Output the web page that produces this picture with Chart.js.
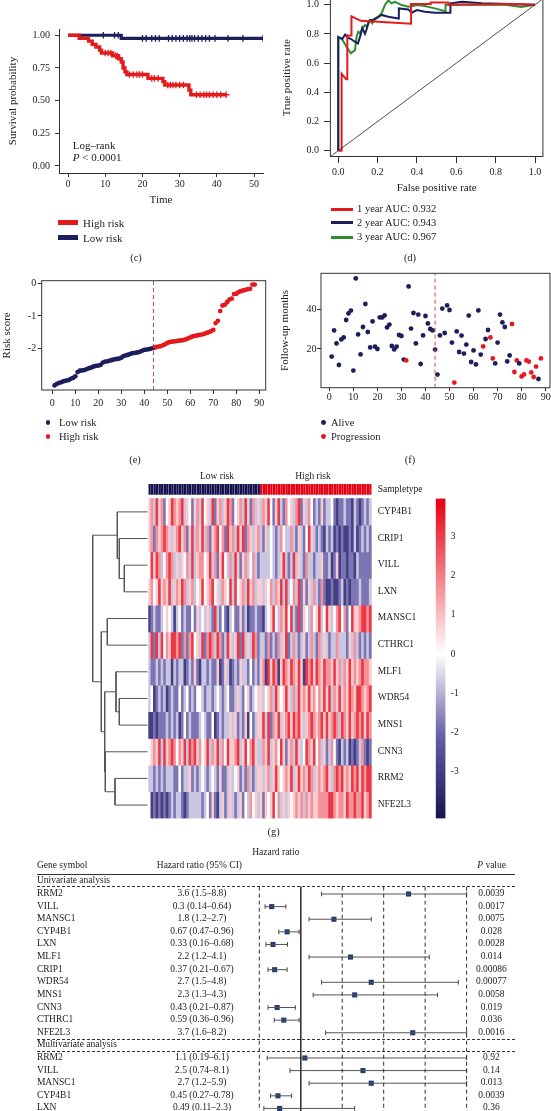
<!DOCTYPE html>
<html>
<head>
<meta charset="utf-8">
<script src="https://cdn.jsdelivr.net/npm/chart.js@4.4.1/dist/chart.umd.min.js"></script>
<style>
  html, body { margin: 0; padding: 0; background: #fff; overflow: hidden; }
  #page { position: relative; width: 551px; height: 1111px; overflow: hidden;
          font-family: 'Liberation Serif', 'Times New Roman', serif; color: #222; }
  canvas { position: absolute; }
  .t { position: absolute; white-space: nowrap; line-height: 1; }
  .sw { position: absolute; }
</style>
</head>
<body>
<div id="page">
  <canvas id="km"></canvas>
  <canvas id="roc"></canvas>
  <canvas id="risk"></canvas>
  <canvas id="follow"></canvas>
  <canvas id="dendro"></canvas>
  <canvas id="heat"></canvas>
  <canvas id="cbar"></canvas>
  <canvas id="forest"></canvas>
</div>
<script>
// ---------- (c) Kaplan-Meier ----------
const kmHighTime = [0, 3, 5.5, 6.5, 7.5, 8.5, 9, 12, 13.5, 14.3, 14.8, 15.3, 15.8, 21.5, 25.5, 26, 32.5, 33, 42.5];
const kmHighSurv = [1, 0.977, 0.955, 0.93, 0.91, 0.886, 0.864, 0.843, 0.82, 0.795, 0.75, 0.72, 0.70, 0.67, 0.645, 0.62, 0.58, 0.545, 0.545];
const kmLowTime = [0, 14.3, 52.4];
const kmLowSurv = [1, 0.976, 0.976];
const censorHighTime = [10, 10.8, 11.5, 12.8, 13.2, 16.5, 17.5, 18.5, 19.2, 20, 22.5, 23.2, 24.2, 26.8, 27.5, 28.2, 29, 30, 31, 34.5, 35.5, 36.5, 37.2, 38, 39, 40, 41, 42.5];
const censorLowTime = [9.5, 12.5, 13.5, 20, 21, 22.5, 23.5, 24.5, 27, 28, 29, 30, 31, 32, 32.7, 33.3, 34, 35, 36, 37, 38, 39.5, 43, 47, 52.4];
const kmTicksX = [0, 10, 20, 30, 40, 50];
const kmTicksY = [0, 0.25, 0.5, 0.75, 1];

// ---------- (d) ROC ----------
const roc1x = [0, 0.017, 0.017, 0.04, 0.046, 0.046, 0.067, 0.067, 0.115, 0.37, 0.37, 0.47, 0.47, 0.56, 0.56, 0.9, 1.0];
const roc1y = [0, 0, 0.527, 0.49, 0.49, 0.79, 0.79, 0.92, 0.89, 0.87, 1.005, 1.005, 1.015, 1.015, 1.0, 1.005, 1.0];
const roc2x = [0, 0, 0.02, 0.035, 0.05, 0.065, 0.08, 0.1, 0.115, 0.122, 0.136, 0.145, 0.156, 0.186, 0.22, 0.254, 0.305, 0.308, 0.356, 0.373, 0.4, 0.44, 0.49, 0.57, 0.57, 0.63, 0.73, 0.864, 1.0];
const roc2y = [0, 0.78, 0.765, 0.795, 0.775, 0.765, 0.75, 0.735, 0.80, 0.84, 0.80, 0.835, 0.89, 0.90, 0.93, 0.918, 0.906, 0.975, 0.968, 0.945, 0.963, 0.952, 0.945, 0.945, 1.01, 1.02, 1.01, 1.005, 1.0];
const roc3x = [0, 0, 0.017, 0.042, 0.064, 0.085, 0.093, 0.102, 0.11, 0.122, 0.136, 0.144, 0.161, 0.173, 0.186, 0.203, 0.22, 0.237, 0.254, 0.271, 0.288, 0.322, 0.356, 0.407, 0.44, 0.49, 0.545, 0.545, 0.6, 0.7, 0.85, 0.93, 1.0];
const roc3y = [0, 0.774, 0.769, 0.712, 0.667, 0.689, 0.781, 0.815, 0.804, 0.838, 0.861, 0.849, 0.895, 0.872, 0.906, 0.918, 0.941, 0.998, 1.03, 1.01, 1.02, 0.998, 0.986, 0.998, 0.991, 0.975, 0.955, 1.0, 1.0, 1.0, 1.0, 0.985, 1.0];
const chanceLine = [-0.04, 1.04];
const rocTicks = [0, 0.2, 0.4, 0.6, 0.8, 1];
const rocLegend = ['1 year AUC: 0.932', '2 year AUC: 0.943', '3 year AUC: 0.967'];

// ---------- (e) risk score ----------
const riskScore = [
  -3.13, -3.08, -3.05, -3.03, -3.0, -2.98, -2.97, -2.93, -2.9, -2.85,
  -2.72, -2.68, -2.67, -2.66, -2.63, -2.6, -2.58, -2.55, -2.53, -2.52,
  -2.5, -2.43, -2.4, -2.39, -2.37, -2.35, -2.33, -2.32, -2.31, -2.28,
  -2.23, -2.21, -2.19, -2.16, -2.14, -2.13, -2.12, -2.1, -2.07, -2.04,
  -2.03, -2.02, -2.0, -1.98, -1.96, -1.94, -1.93, -1.9, -1.87, -1.83,
  -1.8, -1.79, -1.78, -1.77, -1.76, -1.75, -1.74, -1.72, -1.69, -1.66,
  -1.63, -1.61, -1.6, -1.58, -1.57, -1.55, -1.52, -1.5, -1.47, -1.43,
  -1.22, -1.15, -0.85, -0.68, -0.66, -0.58, -0.5, -0.47, -0.33, -0.32,
  -0.27, -0.24, -0.22, -0.2, -0.18, -0.17, -0.04, -0.04
];
const cutoff = 44;
const riskTicksX = [0, 10, 20, 30, 40, 50, 60, 70, 80, 90];
const riskTicksY = [-2, -1, 0];

// ---------- (f) follow-up ----------
const followUp = [
  16.2, 29.3, 22.8, 12, 24.8, 25.8, 34.5, 37.8, 39.2, 9.2,
  55.3, 27.3, 17.3, 31, 42.5, 28.5, 20.8, 33.8, 21.2, 20,
  35.8, 35.8, 36.8, 30.8, 32.2, 21.5, 19.8, 21.2, 27, 26.5,
  14.7, 14.3, 51.3, 30.2, 38, 22.8, 37.2, 12.5, 26.8, 36.5,
  32.8, 30, 29.3, 19.7, 7.2, 26.8, 40.2, 28, 41.8, 39.5,
  23.2, 3.2, 28.8, 18.5, 26.7, 17.7, 22.2, 36.7, 13.5, 19.3,
  12.3, 39.3, 17.2, 21.3, 25, 29.5, 25.8, 15.3, 12.8, 23.2,
  37.2, 33.3, 31, 13.8, 16.8, 32.5, 8.5, 14.3, 12.8, 6.3,
  7.3, 14.3, 13.7, 8.3, 6, 11.2, 5, 15.3
];
const progressionIdx = [32, 52, 64, 67, 68, 76, 77, 78, 80, 81, 82, 83, 84, 85, 86, 88];
const followTicksY = [20, 40];

// ---------- (g) heatmap ----------
const geneNames = ['CYP4B1', 'CRIP1', 'VILL', 'LXN', 'MANSC1', 'CTHRC1', 'MLF1', 'WDR54', 'MNS1', 'CNN3', 'RRM2', 'NFE2L3'];
// one digit per sample, 1 = strongly low ... 4 = 0 ... 7 = strongly high
const heatRows = [
  '56375624576 56735425637 45372563576 24563752635 36574257326 45367253642 32523342122 32213212323',
  '56265676535 67562573657 36256746275 63757265356 32534323643 36325324753 23213231212 11213123232',
  '47576346763 53546373566 45736257436 37525634632 33334323573 23735326332 33522312512 21221322222',
  '56457565735 65763563457 45674536547 37456375635 53546365737 34637252536 32621121123 12122232223',
  '12322345431 34232242534 35327324213 42252312232 21345743657 47327254364 57347534674 62475567767',
  '37273746577 67262674537 26763762375 35727353762 33262326357 23632352363 26353233633 32536323232',
  '32232323313 23312325213 32322512531 23253324232 56175761576 57657517675 76576657563 65756567665',
  '34123231232 24234232443 23323432342 23532452345 53456375457 53637565756 46575736575 65765776567',
  '11212223232 31242322234 32241232335 35232514235 57372657356 75767535676 56757567637 65756767576',
  '45657375676 46573767564 57365736475 56735746753 36573564752 56375347657 46352364213 23121236212',
  '33232323332 24233523234 32343252235 34523263235 53563575456 57357565763 56567536767 56576757677',
  '41212121232 33212333332 34252135235 32352436453 52545746353 54565636565 56666776566 57667667567'
];
const levelValue = [0, -3.0, -1.8, -0.75, 0, 0.8, 1.7, 3.1];
const lowRiskCount = 44, highRiskCount = 44;
const cbMin = -4.21, cbMax = 3.98;
const colorbarTicks = [-3, -2, -1, 0, 1, 2, 3];
// hclust merges: negative = leaf (row index + 1), positive = earlier merge; last = height
const dendroMerges = [
  [-3, -4, 23.2], [-2, 1, 28.2], [-1, 2, 30.2], [-5, -6, 40.2], [-8, -9, 28.2], [-7, 5, 31.5],
  [-11, -12, 32.5], [-10, 7, 42.2], [6, 8, 42.8], [4, 9, 46.2], [3, 10, 54.8]
];

// ---------- forest plot ----------
const uniGenes = ['RRM2', 'VILL', 'MANSC1', 'CYP4B1', 'LXN', 'MLF1', 'CRIP1', 'WDR54', 'MNS1', 'CNN3', 'CTHRC1', 'NFE2L3'];
const uniHR = [3.6, 0.3, 1.8, 0.67, 0.33, 2.2, 0.37, 2.7, 2.3, 0.43, 0.59, 3.7];
const uniLo = [1.5, 0.14, 1.2, 0.47, 0.16, 1.2, 0.21, 1.5, 1.3, 0.21, 0.36, 1.6];
const uniHi = [8.8, 0.64, 2.7, 0.96, 0.68, 4.1, 0.67, 4.8, 4.3, 0.87, 0.96, 8.2];
const uniP = ['0.0039', '0.0017', '0.0075', '0.028', '0.0028', '0.014', '0.00086', '0.00077', '0.0058', '0.019', '0.036', '0.0016'];
const multiGenes = ['RRM2', 'VILL', 'MANSC1', 'CYP4B1', 'LXN'];
const multiHR = [1.1, 2.5, 2.7, 0.45, 0.49];
const multiLo = [0.19, 0.74, 1.2, 0.27, 0.11];
const multiHi = [6.1, 8.1, 5.9, 0.78, 2.3];
const multiP = ['0.92', '0.14', '0.013', '0.0039', '0.36'];
const forestRefs = [0, 1, 2, 3, 4, 5];
const forestMax = 5;

// ---------- styling ----------
const NAVY = '#1c1f5c', RED = '#e41a1c', GREEN = '#2f8c2f', SQ = '#1f3a6e', INK = '#222';
Chart.defaults.font.family = "'Liberation Serif', 'Times New Roman', serif";
Chart.defaults.color = INK;

const page = document.getElementById('page');

function label(html, x, y, o = {}) {
  const d = document.createElement('div');
  d.className = 't';
  d.innerHTML = html;
  d.style.left = x + 'px';
  d.style.top = y + 'px';
  d.style.fontSize = (o.size || 10.5) + 'px';
  const tx = o.align === 'center' ? '-50%' : o.align === 'right' ? '-100%' : '0';
  d.style.transform = 'translate(' + tx + ', -50%)';
  page.appendChild(d);
}
function swatch(x, y, w, h, color, round) {
  const d = document.createElement('div');
  d.className = 'sw';
  Object.assign(d.style, { left: x + 'px', top: y + 'px', width: w + 'px', height: h + 'px', background: color });
  if (round) d.style.borderRadius = '50%';
  page.appendChild(d);
}
function hline(x1, x2, y, dashed) {
  const d = document.createElement('div');
  d.className = 'sw';
  Object.assign(d.style, { left: x1 + 'px', top: (y - 0.5) + 'px', width: (x2 - x1) + 'px', height: '0',
    borderTop: '1px ' + (dashed ? 'dashed' : 'solid') + ' #333' });
  page.appendChild(d);
}

// place a canvas so the chart area lands on `area`; ax = sizes of axis boxes
function mount(id, area, ax = {}) {
  const L = ax.left || 0, B = ax.bottom || 0, R = ax.right || 0, m = 14;
  const cv = document.getElementById(id);
  const cl = Math.floor(area.l - L - m), ct = Math.floor(area.t - m);
  const cw = Math.ceil(area.r + R + m) - cl, ch = Math.ceil(area.b + B + m) - ct;
  cv.width = cw; cv.height = ch;
  Object.assign(cv.style, { left: cl + 'px', top: ct + 'px', width: cw + 'px', height: ch + 'px' });
  return { left: area.l - L - cl, top: area.t - ct, right: cl + cw - area.r - R, bottom: ct + ch - area.b - B };
}

function linAxis(o) {
  return {
    type: 'linear', position: o.position, min: o.min, max: o.max, reverse: !!o.reverse,
    afterBuildTicks: s => { s.ticks = o.ticks.map(v => ({ value: v })); },
    afterFit: s => { if (s.isHorizontal()) s.height = o.size; else s.width = o.size; },
    ticks: { padding: o.pad, font: { size: 10 }, color: INK, autoSkip: false, maxRotation: 0,
             callback: o.fmt || (v => String(v)) },
    grid: { display: true, drawOnChartArea: false, drawTicks: true, tickLength: o.tick, color: '#333', lineWidth: 1 },
    border: { display: !!o.border, color: '#333', width: 1 },
    title: o.title ? { display: true, text: o.title, padding: 0, font: { size: 11 }, color: INK } : { display: false }
  };
}
const hidden = (min, max, reverse) => ({ type: 'linear', display: false, min, max, reverse: !!reverse });

const boxPlugin = {
  id: 'box',
  afterDatasetsDraw(chart) {
    const { ctx, chartArea: a } = chart;
    ctx.save();
    ctx.strokeStyle = '#333'; ctx.lineWidth = 1;
    ctx.strokeRect(a.left, a.top, a.right - a.left, a.bottom - a.top);
    ctx.restore();
  }
};
const base = padding => ({
  responsive: false, animation: false, events: [],
  layout: { padding },
  plugins: { legend: { display: false }, tooltip: { enabled: false } }
});
const pts = (xs, ys) => xs.map((x, i) => ({ x, y: ys[i] }));
function survAt(times, surv, t) {
  let s = surv[0];
  times.forEach((tt, i) => { if (tt <= t) s = surv[i]; });
  return s;
}

// ---------- (c) ----------
new Chart('km', {
  type: 'scatter',
  data: { datasets: [
    { data: pts(kmHighTime, kmHighSurv), showLine: true, stepped: true, borderColor: RED, borderWidth: 3.4, pointRadius: 0 },
    { data: censorHighTime.map(t => ({ x: t, y: survAt(kmHighTime, kmHighSurv, t) })), pointStyle: 'cross',
      pointRadius: 3.3, borderColor: RED, pointBorderWidth: 1.3 },
    { data: pts(kmLowTime, kmLowSurv), showLine: true, stepped: true, borderColor: NAVY, borderWidth: 3.2, pointRadius: 0 },
    { data: censorLowTime.map(t => ({ x: t, y: survAt(kmLowTime, kmLowSurv, t) })), pointStyle: 'cross',
      pointRadius: 3.3, borderColor: NAVY, pointBorderWidth: 1.3 }
  ] },
  options: Object.assign(base(mount('km', { l: 59, t: 29, r: 263, b: 173 }, { left: 52.6, bottom: 33.6 })), {
    scales: {
      x: linAxis({ position: 'bottom', min: -2.42, max: 52.4, ticks: kmTicksX, size: 33.6, tick: 4, pad: 1, border: true, title: 'Time' }),
      y: linAxis({ position: 'left', min: -0.054, max: 1.048, ticks: kmTicksY, size: 52.6, tick: 4, pad: 5, border: true,
                   title: 'Survival probability', fmt: v => v.toFixed(2) })
    }
  })
});
label('Log\u2013rank', 72.7, 145, { size: 11 });
label('<i>P</i> &lt; 0.0001', 72.7, 156.7, { size: 11 });
swatch(58, 220.2, 20, 5, RED);
swatch(58, 235, 20, 5, NAVY);
label('High risk', 83, 222.7, { size: 11 });
label('Low risk', 83, 237.5, { size: 11 });
label('(c)', 136, 258, { align: 'center' });

// ---------- (d) ----------
new Chart('roc', {
  type: 'scatter',
  data: { datasets: [
    { data: pts(chanceLine, chanceLine), showLine: true, borderColor: INK, borderWidth: 0.8, pointRadius: 0 },
    { data: pts(roc1x, roc1y), showLine: true, borderColor: RED, borderWidth: 2, pointRadius: 0 },
    { data: pts(roc2x, roc2y), showLine: true, borderColor: NAVY, borderWidth: 2, pointRadius: 0 },
    { data: pts(roc3x, roc3y), showLine: true, borderColor: GREEN, borderWidth: 2, pointRadius: 0 }
  ] },
  plugins: [boxPlugin],
  options: Object.assign(base(mount('roc', { l: 330.4, t: -1.1, r: 542.9, b: 156.5 }, { left: 50, bottom: 38.1 })), {
    scales: {
      x: linAxis({ position: 'bottom', min: -0.04, max: 1.04, ticks: rocTicks, size: 38.1, tick: 6.5, pad: 3,
                   title: 'False positive rate', fmt: v => v.toFixed(1) }),
      y: linAxis({ position: 'left', min: -0.04, max: 1.04, ticks: rocTicks, size: 50, tick: 6.5, pad: 5,
                   title: 'True positive rate', fmt: v => v.toFixed(1) })
    }
  })
});
[RED, NAVY, GREEN].forEach((c, i) => {
  const y = [209.3, 222.7, 237.3][i];
  swatch(331, y - 1.75, 22, 3.5, c);
  label(rocLegend[i], 357, y, { size: 10.5 });
});
label('(d)', 410, 258.3, { align: 'center' });

// ---------- (e) ----------
const riskIdx = riskScore.map((_, i) => i + 1);
new Chart('risk', {
  type: 'scatter',
  data: { datasets: [
    { data: [{ x: cutoff, y: -3.27 }, { x: cutoff, y: 0.08 }], showLine: true, borderColor: '#c0504d',
      borderWidth: 1, borderDash: [4, 3], pointRadius: 0 },
    { data: pts(riskIdx, riskScore), pointRadius: 2.4, borderWidth: 0,
      pointBackgroundColor: riskIdx.map(i => i <= cutoff ? NAVY : RED) }
  ] },
  plugins: [boxPlugin],
  options: Object.assign(base(mount('risk', { l: 41.7, t: 280.7, r: 265.7, b: 390 }, { left: 41.3, bottom: 22 })), {
    scales: {
      x: linAxis({ position: 'bottom', min: -4.61, max: 92.78, ticks: riskTicksX, size: 22, tick: 4, pad: 3 }),
      y: linAxis({ position: 'left', min: -3.27, max: 0.08, ticks: riskTicksY, size: 41.3, tick: 4, pad: 1.5, title: 'Risk score' })
    }
  })
});
swatch(45.6, 420.3, 4.8, 4.8, NAVY, true);
swatch(45.6, 434.3, 4.8, 4.8, RED, true);
label('Low risk', 59, 422.7);
label('High risk', 59, 436.7);
label('(e)', 135, 460, { align: 'center' });

// ---------- (f) ----------
const followIdx = followUp.map((_, i) => i + 1);
new Chart('follow', {
  type: 'scatter',
  data: { datasets: [
    { data: [{ x: cutoff, y: 0.65 }, { x: cutoff, y: 57.85 }], showLine: true, borderColor: '#c0504d',
      borderWidth: 1, borderDash: [4, 3], pointRadius: 0 },
    { data: pts(followIdx, followUp), pointRadius: 2.4, borderWidth: 0,
      pointBackgroundColor: followIdx.map(i => progressionIdx.includes(i) ? RED : NAVY) }
  ] },
  plugins: [boxPlugin],
  options: Object.assign(base(mount('follow', { l: 321, t: 273.3, r: 550, b: 387.7 }, { left: 42.6, bottom: 20 })), {
    scales: {
      x: linAxis({ position: 'bottom', min: -3.45, max: 91.8, ticks: riskTicksX, size: 20, tick: 3.5, pad: 0 }),
      y: linAxis({ position: 'left', min: 0.65, max: 57.85, ticks: followTicksY, size: 42.6, tick: 4, pad: 0.5, title: 'Follow-up months' })
    }
  })
});
swatch(320.9, 420.3, 4.8, 4.8, NAVY, true);
swatch(320.9, 434.3, 4.8, 4.8, RED, true);
label('Alive', 331, 422.7);
label('Progression', 331, 436.7);
label('(f)', 410, 460, { align: 'center' });

// ---------- (g) heatmap ----------
const colorStops = [[cbMin, [22, 20, 82]], [-2.1, [102, 94, 168]], [0, [255, 255, 255]], [cbMax, [228, 0, 16]]];
function colorFor(v) {
  v = Math.max(cbMin, Math.min(cbMax, v));
  for (let k = 1; k < colorStops.length; k++) {
    const [v0, c0] = colorStops[k - 1], [v1, c1] = colorStops[k];
    if (v <= v1) {
      const t = (v - v0) / (v1 - v0);
      return 'rgb(' + c0.map((c, j) => Math.round(c + (c1[j] - c) * t)).join(',') + ')';
    }
  }
  return 'rgb(' + colorStops[colorStops.length - 1][1].join(',') + ')';
}
const heatValues = heatRows.map(s => s.replace(/\s/g, '').split('').map(ch => levelValue[+ch]));
const sampleGroup = Array(lowRiskCount).fill(0).concat(Array(highRiskCount).fill(1));
const sampleIds = sampleGroup.map((_, j) => 'S' + (j + 1));
const rowTop = -0.55, rowBottom = geneNames.length;
const heatArea = { l: 148.3, t: 483.9, r: 371.7, b: 818.4 };

const heatSets = heatValues.map((vals, i) => ({
  data: vals.map(() => [i, i + 1]), backgroundColor: vals.map(colorFor),
  borderWidth: 0, grouped: false, barPercentage: 1, categoryPercentage: 1
}));
heatSets.push({
  data: sampleGroup.map(() => [rowTop, -0.14]), backgroundColor: sampleGroup.map(g => g ? '#e60012' : '#14124e'),
  borderColor: 'rgba(200,200,230,0.18)', borderWidth: 0.4, borderSkipped: false,
  grouped: false, barPercentage: 1, categoryPercentage: 1
});
new Chart('heat', {
  type: 'bar',
  data: { labels: sampleIds, datasets: heatSets },
  options: Object.assign(base(mount('heat', heatArea)), {
    scales: { x: { type: 'category', display: false }, y: hidden(rowTop, rowBottom, true) }
  })
});

// dendrogram from the merge table
const nodeY = [], nodeH = [];
const dendroSets = dendroMerges.map(([a, b, h], k) => {
  const p = r => r < 0 ? { y: -r - 0.5, h: 0 } : { y: nodeY[r - 1], h: nodeH[r - 1] };
  const A = p(a), B = p(b);
  nodeY[k] = (A.y + B.y) / 2; nodeH[k] = h;
  return { data: [{ x: A.h, y: A.y }, { x: h, y: A.y }, { x: h, y: B.y }, { x: B.h, y: B.y }],
           showLine: true, borderColor: '#555', borderWidth: 1, pointRadius: 0, clip: false };
});
new Chart('dendro', {
  type: 'scatter',
  data: { datasets: dendroSets },
  options: Object.assign(base(mount('dendro', { l: 87.5, t: heatArea.t, r: 147.5, b: heatArea.b })), {
    scales: { x: hidden(0, 60, true), y: hidden(rowTop, rowBottom, true) }
  })
});

// colour key
new Chart('cbar', {
  type: 'bar',
  data: { labels: ['key'], datasets: [{
    data: [[cbMin, cbMax]], barPercentage: 1, categoryPercentage: 1, borderWidth: 0,
    backgroundColor: c => {
      const ch = c.chart;
      if (!ch.chartArea) return '#fff';
      const y = ch.scales.y;
      const g = ch.ctx.createLinearGradient(0, y.getPixelForValue(cbMin), 0, y.getPixelForValue(cbMax));
      colorStops.forEach(([v, col]) => g.addColorStop((v - cbMin) / (cbMax - cbMin), 'rgb(' + col.join(',') + ')'));
      return g;
    }
  }] },
  options: Object.assign(base(mount('cbar', { l: 435.7, t: 498.6, r: 445.5, b: 818.4 }, { right: 22 })), {
    scales: {
      x: { type: 'category', display: false },
      y: {
        type: 'linear', position: 'right', min: cbMin, max: cbMax,
        afterBuildTicks: s => { s.ticks = colorbarTicks.map(v => ({ value: v })); },
        afterFit: s => { s.width = 22; },
        ticks: { padding: 5.3, font: { size: 9.5 }, color: INK, callback: v => String(v) },
        grid: { display: false, drawTicks: false }, border: { display: false }
      }
    }
  })
});

const rowPitch = (heatArea.b - heatArea.t) / (rowBottom - rowTop);
const rowY = i => heatArea.t + (i + 0.5 - rowTop) * rowPitch;
geneNames.forEach((g, i) => label(g, 377.7, rowY(i), { size: 9.5 }));
label('Sampletype', 377.7, 490, { size: 9.5 });
label('Low risk', 217, 477, { align: 'center', size: 9.5 });
label('High risk', 313, 477, { align: 'center', size: 9.5 });
label('(g)', 273.6, 831.7, { align: 'center' });

// ---------- forest plot ----------
const forestArea = { l: 259.3, t: 886.7, r: 466.6, b: 1116 };
const fTop = -0.579, fBottom = 17.6;
const rows = uniGenes.map((g, i) => ({ g, hr: uniHR[i], lo: uniLo[i], hi: uniHi[i], p: uniP[i], idx: i }))
  .concat(multiGenes.map((g, i) => ({ g, hr: multiHR[i], lo: multiLo[i], hi: multiHi[i], p: multiP[i], idx: uniGenes.length + 1 + i })));
const forestSets = [];
forestRefs.forEach(v => forestSets.push({
  data: [{ x: v, y: fTop }, { x: v, y: fBottom }], showLine: true, borderColor: '#333', borderWidth: 1,
  borderDash: v === 1 ? [] : [4, 3], pointRadius: 0, clip: false
}));
rows.forEach(r => forestSets.push({
  data: [{ x: r.lo, y: r.idx }, { x: Math.min(r.hi, forestMax), y: r.idx }], showLine: true,
  borderColor: '#555', borderWidth: 1, pointRadius: 0, clip: false
}));
forestSets.push({
  data: rows.flatMap(r => [{ x: r.lo, y: r.idx }, { x: Math.min(r.hi, forestMax), y: r.idx }]),
  pointStyle: 'line', rotation: 90, pointRadius: 2.3, borderColor: '#444', pointBorderWidth: 1, clip: false
});
forestSets.push({
  data: rows.map(r => ({ x: r.hr, y: r.idx })), pointStyle: 'rect', pointRadius: 3.6,
  backgroundColor: SQ, borderColor: SQ, borderWidth: 0, clip: false
});
const forestChart = new Chart('forest', {
  type: 'scatter',
  data: { datasets: forestSets },
  options: Object.assign(base(mount('forest', forestArea)), {
    scales: { x: hidden(0, forestMax), y: hidden(fTop, fBottom, true) }
  })
});
const fOff = parseFloat(forestChart.canvas.style.top);
const fy = v => fOff + forestChart.scales.y.getPixelForValue(v);

label('Hazard ratio', 275.8, 852.7, { align: 'center', size: 9.5 });
label('Gene symbol', 36.9, 866, { size: 9.5 });
label('Hazard ratio (95% CI)', 199.4, 866, { align: 'center', size: 9.5 });
label('<i>P</i> value', 491.6, 866, { align: 'center', size: 9.5 });
hline(36.9, 514.8, 874.3, false);
label('Univariate analysis', 36.9, fy(-1), { size: 9.5 });
hline(36.9, 514.8, 886.7, true);
hline(36.9, 514.8, 1039.3, true);
label('Multivariate analysis', 36.9, fy(uniGenes.length), { size: 9.5 });
hline(36.9, 514.8, 1051.7, true);
rows.forEach(r => {
  const y = fy(r.idx);
  label(r.g, 36.9, y, { size: 9.5 });
  label(r.hr + ' (' + r.lo + '\u2013' + r.hi + ')', 202, y, { align: 'center', size: 9.5 });
  label(r.p, 491.4, y, { align: 'center', size: 9.5 });
});
</script>
</body>
</html>
